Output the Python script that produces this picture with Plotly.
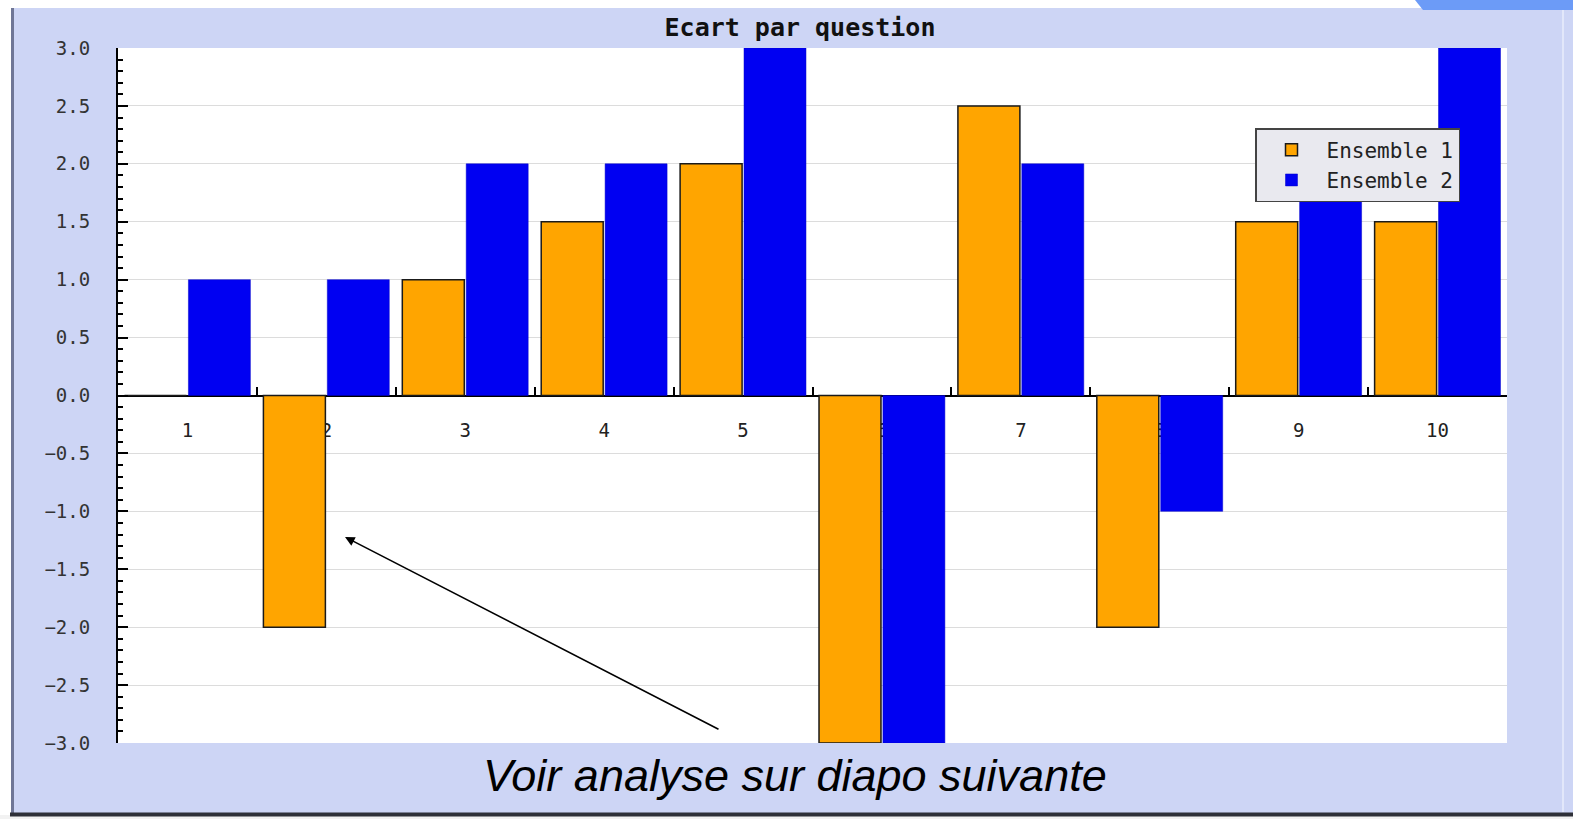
import plotly.graph_objects as go

questions = ["1", "2", "3", "4", "5", "6", "7", "8", "9", "10"]
ensemble1 = [0, -2, 1, 1.5, 2, -3, 2.5, -2, 1.5, 1.5]
ensemble2 = [1, 1, 2, 2, 3, -3, 2, -1, 2, 3]
y_ticks = [-3.0, -2.5, -2.0, -1.5, -1.0, -0.5, 0.0, 0.5, 1.0, 1.5, 2.0, 2.5, 3.0]

W, H = 1573, 819
L, R, T, B = 118, 66, 48, 76
PW, PH = W - L - R, H - T - B


def px(x):
    return (x - L) / PW


def py(y):
    return (H - B - y) / PH


mono = "DejaVu Sans Mono, Liberation Mono, monospace"

fig = go.Figure()
fig.add_trace(go.Bar(x=questions, y=ensemble1, name="Ensemble 1",
                     marker=dict(color="#FFA500", line=dict(color="#1a1a1a", width=1.5))))
fig.add_trace(go.Bar(x=questions, y=ensemble2, name="Ensemble 2",
                     marker=dict(color="#0000F2", line=dict(color="#0000C8", width=0.5))))

fig.update_layout(
    width=W, height=H,
    margin=dict(l=L, r=R, t=T, b=B),
    paper_bgcolor="#CDD5F5",
    plot_bgcolor="#FFFFFF",
    barmode="group", bargap=0.08, bargroupgap=0.03,
    title=dict(text="<b>Ecart par question</b>", x=800 / W, xref="container", xanchor="center",
               y=1 - 27 / H, yref="container", yanchor="middle",
               font=dict(family=mono, size=25, color="#111111")),
    legend=dict(x=px(1255), y=py(128), xanchor="left", yanchor="top",
                bgcolor="#E9E9EF", bordercolor="#444444", borderwidth=1.5,
                font=dict(family=mono, size=21, color="#222222"),
                itemwidth=60, tracegroupgap=2),
    showlegend=True,
)

fig.update_yaxes(
    range=[-3, 3], tickvals=y_ticks, tickformat=".1f",
    showline=True, linecolor="black", linewidth=2,
    ticks="inside", ticklen=10, tickcolor="black", tickwidth=2,
    minor=dict(dtick=0.1, ticks="inside", ticklen=5, tickcolor="black", tickwidth=1.5, showgrid=False),
    showgrid=True, gridcolor="#DCDCDC", gridwidth=1,
    zeroline=False,
    tickfont=dict(family=mono, size=19, color="#333333"),
    ticklabelstandoff=22,
    domain=[0, 1],
)

fig.update_xaxes(
    type="category", anchor="free", position=0.5,
    showline=True, linecolor="black", linewidth=2,
    ticks="inside", tickson="boundaries", ticklen=8, tickcolor="black", tickwidth=1.5,
    showgrid=False, zeroline=False,
    tickfont=dict(family=mono, size=19, color="#222222"),
    ticklabelstandoff=18,
    layer="below traces",
)

# slide decorations
fig.add_shape(type="rect", xref="paper", yref="paper", x0=px(-5), x1=px(11), y0=py(830), y1=py(-5),
              fillcolor="white", line_width=0, layer="above")
fig.add_shape(type="line", xref="paper", yref="paper", x0=px(12.5), x1=px(12.5), y0=py(815), y1=py(8),
              line=dict(color="#6F7696", width=3), layer="above")
fig.add_shape(type="rect", xref="paper", yref="paper", x0=px(-5), x1=px(1580), y0=py(830), y1=py(815),
              fillcolor="#F2F2F2", line_width=0, layer="above")
fig.add_shape(type="line", xref="paper", yref="paper", x0=px(10), x1=px(1580), y0=py(814.5), y1=py(814.5),
              line=dict(color="#2E3038", width=4), layer="above")
fig.add_shape(type="rect", xref="paper", yref="paper", x0=px(11), x1=px(1580), y0=py(8), y1=py(-5),
              fillcolor="white", line_width=0, layer="above")
fig.add_shape(type="path", xref="paper", yref="paper",
              path=f"M {px(1415)} {py(0)} L {px(1580)} {py(0)} L {px(1580)} {py(10)} L {px(1423)} {py(10)} Z",
              fillcolor="#6C9BF7", line_width=0, layer="above")
fig.add_shape(type="line", xref="paper", yref="paper", x0=px(1563), x1=px(1563), y0=py(812), y1=py(10),
              line=dict(color="#E2E7FA", width=2), layer="above")

fig.add_annotation(text="<i>Voir analyse sur diapo suivante</i>", xref="paper", yref="paper",
                   x=px(795), y=py(775), xanchor="center", yanchor="middle", showarrow=False,
                   font=dict(family="Liberation Sans, Arial, sans-serif", size=45, color="black"))
fig.add_annotation(text="", xref="paper", yref="paper", x=px(345), y=py(537),
                   ax=375, ay=193, showarrow=True, arrowhead=2, arrowsize=1.2, arrowwidth=1.6,
                   arrowcolor="black")

fig.write_html("out.html", config={"displayModeBar": False},
               post_script="document.body.style.margin='0px';document.body.style.overflow='hidden';")
